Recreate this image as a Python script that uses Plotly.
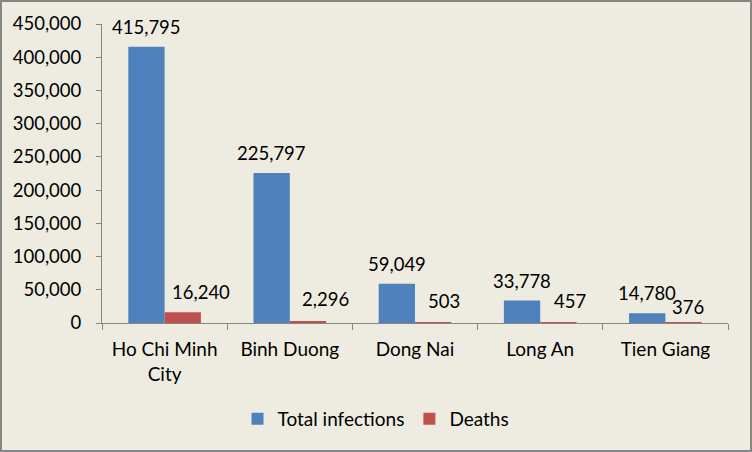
import plotly.graph_objects as go

categories = ["Ho Chi Minh<br>City", "Binh Duong", "Dong Nai", "Long An", "Tien Giang"]
total_infections = [415795, 225797, 59049, 33778, 14780]
deaths = [16240, 2296, 503, 457, 376]
death_label_xshift = [18, 18, 11, 12, 5]
death_label_yshift = [7, 9, 9, 9, 3]

W, H = 752, 452
ml, mr, mt, mb = 102, 24, 24, 129
FONT = "Lato"
FS = 18.5
BG = "#EEECE1"
AX = "#868686"

fig = go.Figure()
fig.add_trace(go.Bar(name="Total infections", x=categories, y=total_infections,
                     marker=dict(color="#4F81BD", line=dict(width=0))))
fig.add_trace(go.Bar(name="Deaths", x=categories, y=deaths,
                     marker=dict(color="#C0504D", line=dict(width=0))))

ann = []
for i, c in enumerate(categories):
    ann.append(dict(x=c, y=total_infections[i], text=f"{total_infections[i]:,}",
                    xref="x", yref="y", showarrow=False, yanchor="bottom",
                    xshift=-18, yshift=7, font=dict(family=FONT, size=FS, color="#000")))
    ann.append(dict(x=c, y=deaths[i], text=f"{deaths[i]:,}",
                    xref="x", yref="y", showarrow=False, yanchor="bottom",
                    xshift=18 + death_label_xshift[i], yshift=death_label_yshift[i],
                    font=dict(family=FONT, size=FS, color="#000")))

pw, ph = W - ml - mr, H - mt - mb
fig.update_layout(
    width=W, height=H,
    margin=dict(l=ml, r=mr, t=mt, b=mb, pad=0),
    paper_bgcolor=BG, plot_bgcolor=BG,
    barmode="group", bargap=0.42, bargroupgap=0,
    font=dict(family=FONT, size=FS, color="#000"),
    showlegend=True,
    legend=dict(orientation="h", x=(376 - ml) / pw, xanchor="center",
                y=-(419 - (H - mb)) / ph,
                yanchor="middle", font=dict(family=FONT, size=19, color="#000"),
                bgcolor="rgba(0,0,0,0)", itemwidth=30, tracegroupgap=0),
    annotations=ann,
    xaxis=dict(showline=True, linecolor=AX, linewidth=1, ticks="outside",
               tickson="boundaries", ticklen=6, tickcolor=AX, showgrid=False,
               ticklabelstandoff=9,
               tickfont=dict(family=FONT, size=19, color="#000"), fixedrange=True),
    yaxis=dict(range=[0, 450000], dtick=50000, tickformat=",", showline=True,
               linecolor=AX, linewidth=1, ticks="outside", ticklen=5, tickcolor=AX,
               showgrid=False, zeroline=False, ticklabelstandoff=11,
               tickfont=dict(family=FONT, size=FS, color="#000")),
    shapes=[dict(type="rect", xref="paper", yref="paper",
                 x0=(1 - ml) / pw, x1=(W - 1 - ml) / pw,
                 y0=-(mb - 1) / ph, y1=1 + (mt - 1) / ph,
                 line=dict(color=AX, width=2), layer="above")],
)

fig.write_html("out.html")
